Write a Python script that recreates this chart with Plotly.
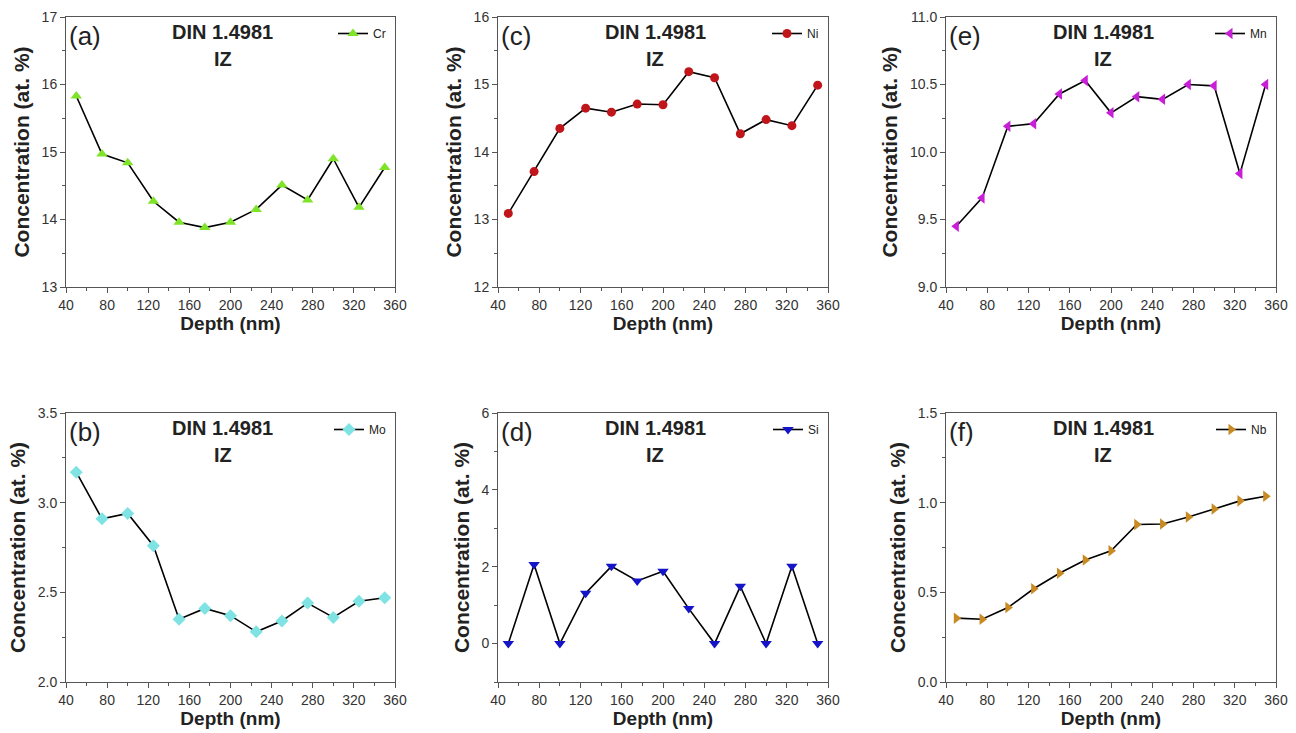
import plotly.graph_objects as go

depth = [50, 75, 100, 125, 150, 175, 200, 225, 250, 275, 300, 325, 350]

cr = [15.83, 14.97, 14.84, 14.27, 13.96, 13.88, 13.96, 14.15, 14.51, 14.29, 14.90, 14.18, 14.77]
ni = [13.09, 13.71, 14.35, 14.65, 14.59, 14.71, 14.70, 15.19, 15.10, 14.27, 14.48, 14.39, 14.99]
mn = [9.45, 9.66, 10.19, 10.21, 10.43, 10.53, 10.29, 10.41, 10.39, 10.50, 10.49, 9.84, 10.50]
mo = [3.17, 2.91, 2.94, 2.76, 2.35, 2.41, 2.37, 2.28, 2.34, 2.44, 2.36, 2.45, 2.47]
si = [0.0, 2.06, 0.0, 1.31, 2.01, 1.63, 1.88, 0.91, 0.0, 1.49, 0.0, 2.01, 0.0]
nb = [0.356, 0.35, 0.415, 0.52, 0.606, 0.68, 0.732, 0.878, 0.881, 0.92, 0.965, 1.01, 1.036]

panels = [
    # (label, name, values, color, symbol, yrange, ytick, yminor)
    ("(a)", "Cr", cr, "#7FE32A", "triangle-up", [13, 17], 1, 0.5),
    ("(c)", "Ni", ni, "#C0161B", "circle", [12, 16], 1, 0.5),
    ("(e)", "Mn", mn, "#C81ED8", "triangle-left", [9.0, 11.0], 0.5, 0.25),
    ("(b)", "Mo", mo, "#7FE3E3", "diamond", [2.0, 3.5], 0.5, 0.25),
    ("(d)", "Si", si, "#1414C8", "triangle-down", [-1, 6], 2, 1),
    ("(f)", "Nb", nb, "#C88A22", "triangle-right", [0.0, 1.5], 0.5, 0.25),
]

W, H = 1296, 733
xdoms = [(66, 395), (498, 828), (946, 1276)]
ydoms = [(17, 287), (413, 682)]

fig = go.Figure()
font_main = "Arial, Liberation Sans, sans-serif"

for i, (lab, name, vals, col, sym, yr, dt, mdt) in enumerate(panels):
    r, c = divmod(i, 3)
    n = "" if i == 0 else str(i + 1)
    xd = [xdoms[c][0] / W, xdoms[c][1] / W]
    yd = [1 - ydoms[r][1] / H, 1 - ydoms[r][0] / H]
    legname = "legend" if i == 0 else f"legend{i+1}"
    fig.add_trace(go.Scatter(
        x=depth, y=vals, mode="lines+markers", name=name,
        line=dict(color="black", width=1.6),
        marker=dict(symbol=sym, color=col, size=10 if sym != "circle" else 9,
                    line=dict(width=0)),
        xaxis="x" + n, yaxis="y" + n, legend=legname, showlegend=True,
    ))
    fmt = ".1f" if dt < 1 else "d"
    axcommon = dict(showline=True, linecolor="#555", linewidth=1, mirror=True,
                    ticks="outside", ticklen=5, tickcolor="#555", showgrid=False,
                    zeroline=False, automargin=False,
                    tickfont=dict(family=font_main, size=14, color="#333"))
    fig.layout["xaxis" + n] = dict(
        domain=xd, range=[40, 360], dtick=40, tick0=40, anchor="y" + n,
        minor=dict(dtick=20, ticks="outside", ticklen=3, tickcolor="#555"),
        title=dict(text="<b>Depth (nm)</b>", font=dict(family=font_main, size=19, color="#222"), standoff=4),
        **axcommon)
    fig.layout["yaxis" + n] = dict(
        domain=yd, range=yr, dtick=dt, tick0=0, anchor="x" + n, tickformat=fmt,
        minor=dict(dtick=mdt, ticks="outside", ticklen=3, tickcolor="#555"),
        title=dict(text="<b>Concentration (at. %)</b>", font=dict(family=font_main, size=21, color="#222"), standoff=6),
        **axcommon)
    fig.layout[legname] = dict(x=xd[1] - 4 / W, y=yd[1] - 2 / H, xanchor="right", yanchor="top",
                               bgcolor="rgba(0,0,0,0)", font=dict(family=font_main, size=12, color="#222"),
                               itemwidth=30, tracegroupgap=0, borderwidth=0)
    xmid = (xd[0] + xd[1]) / 2
    top_px = ydoms[r][0]
    fig.add_annotation(x=xd[0] + 1 / W, y=1 - (top_px + 19) / H, xref="paper", yref="paper",
                       xanchor="left", yanchor="middle", text=lab, showarrow=False,
                       font=dict(family=font_main, size=26, color="#222"))
    fig.add_annotation(x=xmid - 8 / W, y=1 - (top_px + 15) / H, xref="paper", yref="paper",
                       xanchor="center", yanchor="middle", text="<b>DIN 1.4981</b>",
                       showarrow=False, font=dict(family=font_main, size=20, color="#222"))
    fig.add_annotation(x=xmid - 8 / W, y=1 - (top_px + 42) / H, xref="paper", yref="paper",
                       xanchor="center", yanchor="middle", text="<b>IZ</b>",
                       showarrow=False, font=dict(family=font_main, size=20, color="#222"))

fig.update_layout(width=W, height=H, margin=dict(l=0, r=0, t=0, b=0, autoexpand=False),
                  paper_bgcolor="white", plot_bgcolor="white")
fig.write_html("out.html", config={"displayModeBar": False},
               post_script="document.body.style.margin='0';document.body.style.overflow='hidden';")
